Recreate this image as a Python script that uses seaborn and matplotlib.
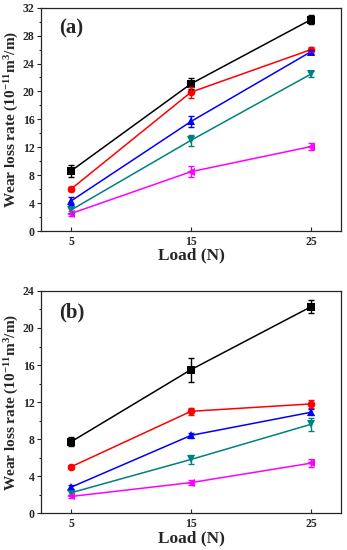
import numpy as np
import matplotlib
matplotlib.use("Agg")
import matplotlib.pyplot as plt
import pandas as pd
import seaborn as sns

loads = [5, 15, 25]
series = ["S1", "S2", "S3", "S4", "S5"]
colors = ["#000000", "#ff0000", "#0000ff", "#008080", "#ff00ff"]
markers = ["s", "o", "^", "v", "<"]

# panel (a)
a_vals = [[8.6, 21.1, 30.3],
          [6.0, 19.9, 26.0],
          [4.3, 15.7, 25.7],
          [3.0, 13.0, 22.5],
          [2.5, 8.5, 12.1]]
a_err = [[0.8, 0.8, 0.6],
         [0.3, 0.8, 0.4],
         [0.6, 0.8, 0.3],
         [0.4, 0.8, 0.4],
         [0.3, 0.8, 0.5]]

# panel (b)
b_vals = [[7.7, 15.5, 22.3],
          [5.0, 11.0, 11.8],
          [2.8, 8.4, 10.9],
          [2.2, 5.8, 9.6],
          [1.8, 3.3, 5.4]]
b_err = [[0.5, 1.3, 0.7],
         [0.2, 0.4, 0.4],
         [0.2, 0.3, 0.3],
         [0.2, 0.5, 0.7],
         [0.2, 0.3, 0.4]]

sns.set_style("ticks")
plt.rcParams['font.family'] = ['Liberation Serif', 'DejaVu Serif']
plt.rcParams['font.weight'] = 'bold'
plt.rcParams['mathtext.fontset'] = 'custom'
plt.rcParams['mathtext.rm'] = 'Liberation Serif:bold'
plt.rcParams['mathtext.it'] = 'Liberation Serif:bold'
plt.rcParams['mathtext.bf'] = 'Liberation Serif:bold'

fig = plt.figure(figsize=(3.47, 5.5), dpi=100)
ax_a = fig.add_axes([0.118, 0.58, 0.865, 0.406])
ax_b = fig.add_axes([0.118, 0.067, 0.865, 0.404])


def draw(ax, vals, errs, ymax, ystep, tag):
    rows = []
    for name, v in zip(series, vals):
        for x, y in zip(loads, v):
            rows.append({"load": x, "rate": y, "series": name})
    df = pd.DataFrame(rows)
    sns.lineplot(data=df, x="load", y="rate", hue="series", style="series",
                 palette=colors, markers=markers, dashes=False, ax=ax,
                 linewidth=1.1, markersize=5.5, markeredgewidth=0,
                 legend=False)
    for v, e, c in zip(vals, errs, colors):
        ax.errorbar(loads, v, yerr=e, fmt="none", ecolor=c, elinewidth=1,
                    capsize=2, capthick=1)
    ax.set_xlim(2.5, 27.5)
    ax.set_ylim(0, ymax)
    ax.set_xticks(loads)
    ax.set_yticks(np.arange(0, ymax + 1, ystep))
    ax.set_yticks(np.arange(ystep / 2, ymax, ystep), minor=True)
    ax.tick_params(axis="x", direction="in", labelsize=8.5, length=3, width=0.8)
    ax.tick_params(axis="y", direction="out", labelsize=8.5, length=3, width=0.8, pad=1.5)
    ax.tick_params(axis="y", which="minor", direction="out", length=1.8, width=0.8)
    for lab in ax.get_xticklabels() + ax.get_yticklabels():
        lab.set_fontweight("bold")
    for sp in ax.spines.values():
        sp.set_linewidth(0.9)
        sp.set_visible(True)
    ax.set_xlabel("Load (N)", fontsize=12.5, fontweight="bold", labelpad=0)
    ax.set_ylabel(r"Wear loss rate (10$^{-11}$m$^{3}$/m)", fontsize=11,
                  fontweight="bold", labelpad=1)
    ax.text(0.06, 0.95, tag, transform=ax.transAxes, fontsize=15,
            fontweight="bold", va="top", ha="left")


draw(ax_a, a_vals, a_err, 32, 4, "(a)")
draw(ax_b, b_vals, b_err, 24, 4, "(b)")

fig.savefig("out.png", dpi=100)
